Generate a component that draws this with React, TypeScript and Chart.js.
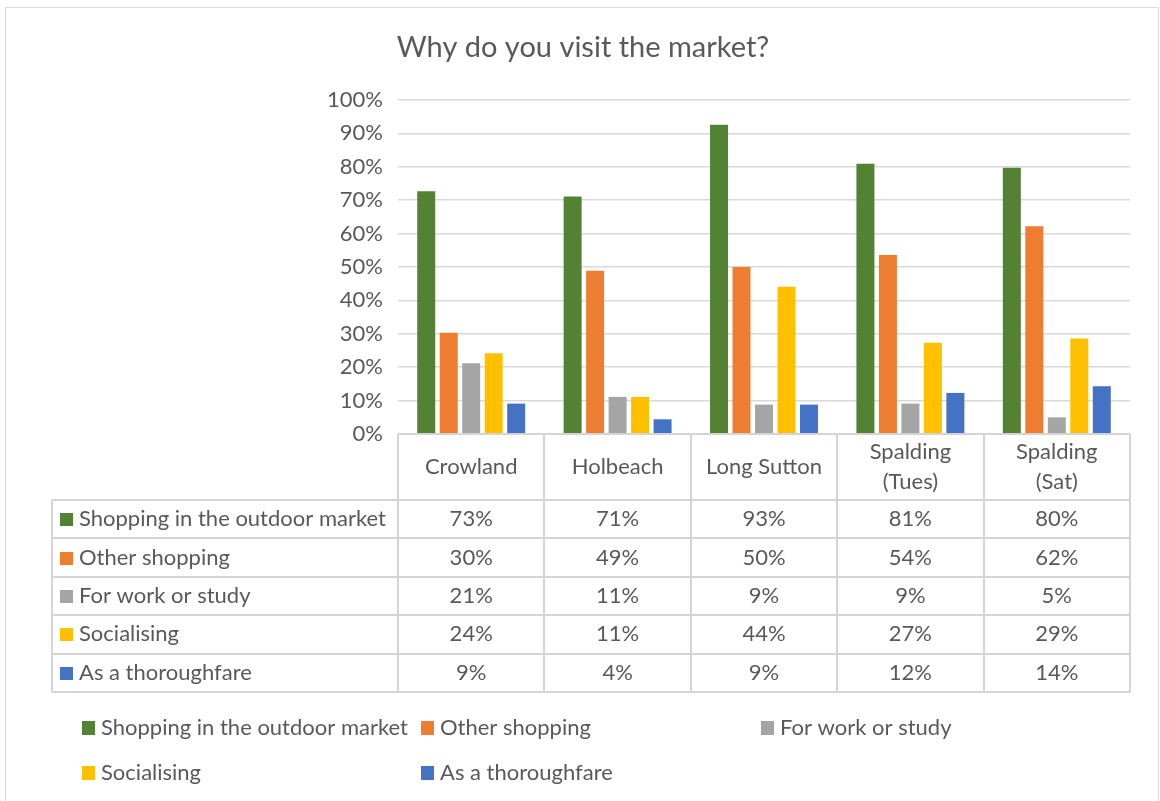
import React, { useEffect, useRef } from "react";
import { Chart, registerables } from "chart.js";

Chart.register(...registerables);

const title = "Why do you visit the market?";
const categories: string[][] = [["Crowland"], ["Holbeach"], ["Long Sutton"], ["Spalding", "(Tues)"], ["Spalding", "(Sat)"]];
const seriesNames = ["Shopping in the outdoor market", "Other shopping", "For work or study", "Socialising", "As a thoroughfare"];
const seriesColors = ["#548235", "#ED7D31", "#A5A5A5", "#FFC000", "#4472C4"];
const outdoorMarket = [72.7, 71.1, 92.6, 80.9, 79.7];
const otherShopping = [30.3, 48.9, 50.0, 53.6, 62.2];
const workOrStudy = [21.2, 11.1, 8.8, 9.1, 5.0];
const socialising = [24.2, 11.1, 44.1, 27.3, 28.6];
const thoroughfare = [9.1, 4.4, 8.8, 12.3, 14.3];
const seriesValues = [outdoorMarket, otherShopping, workOrStudy, socialising, thoroughfare];

const FONT = "Lato, 'Noto Sans', sans-serif";
const TEXT = "#595959";
const LINE = "#d9d9d9";
const FS = 22;

const decorPlugin = {
  id: "decor",
  afterDraw(chart: any) {
    const ctx = chart.ctx as CanvasRenderingContext2D;
    const area = chart.chartArea;
    const n = categories.length;
    const colW = (area.right - area.left) / n;
    const headerBottom = 500;
    const rowH = 38.4;
    const tableLeft = 52;
    const tableBottom = headerBottom + rowH * seriesNames.length;
    ctx.save();
    // outer border
    ctx.strokeStyle = LINE;
    ctx.lineWidth = 1;
    ctx.strokeRect(5.5, 7.5, 1153, 830);
    // title
    ctx.fillStyle = TEXT;
    ctx.font = `29px ${FONT}`;
    ctx.textAlign = "center";
    ctx.textBaseline = "middle";
    ctx.fillText(title, 583, 48);

    // table lines
    ctx.strokeStyle = "#d4d4d4";
    ctx.lineWidth = 2;
    ctx.beginPath();
    for (let i = 0; i <= n; i++) {
      const x = Math.round(area.left + i * colW);
      ctx.moveTo(x, area.bottom);
      ctx.lineTo(x, tableBottom);
    }
    ctx.moveTo(tableLeft, headerBottom);
    ctx.lineTo(tableLeft, tableBottom);
    ctx.moveTo(area.left, area.bottom);
    ctx.lineTo(area.right, area.bottom);
    for (let r = 0; r <= seriesNames.length; r++) {
      const y = Math.round(headerBottom + r * rowH);
      ctx.moveTo(tableLeft, y);
      ctx.lineTo(area.right, y);
    }
    ctx.stroke();

    // header
    ctx.fillStyle = TEXT;
    ctx.font = `${FS}px ${FONT}`;
    ctx.textAlign = "center";
    ctx.textBaseline = "middle";
    const headerMid = (area.bottom + headerBottom) / 2;
    categories.forEach((lines, i) => {
      const cx = area.left + (i + 0.5) * colW;
      const lh = 30;
      lines.forEach((t, j) => {
        const y = headerMid + (j - (lines.length - 1) / 2) * lh;
        ctx.fillText(t, cx, y);
      });
    });

    // rows
    seriesNames.forEach((name, r) => {
      const cy = headerBottom + (r + 0.5) * rowH;
      ctx.fillStyle = seriesColors[r];
      ctx.fillRect(60, Math.round(cy - 6), 13, 13);
      ctx.fillStyle = TEXT;
      ctx.textAlign = "left";
      ctx.fillText(name, 79, cy);
      ctx.textAlign = "center";
      seriesValues[r].forEach((v, i) => {
        ctx.fillText(Math.round(v) + "%", area.left + (i + 0.5) * colW, cy);
      });
    });

    // legend
    const legendCols = [82, 421, 761];
    const legendRows = [728, 773];
    seriesNames.forEach((name, k) => {
      const col = k % 3;
      const row = Math.floor(k / 3);
      const x = legendCols[col];
      const y = legendRows[row];
      ctx.fillStyle = seriesColors[k];
      ctx.fillRect(x, y - 7, 13, 14);
      ctx.fillStyle = TEXT;
      ctx.textAlign = "left";
      ctx.fillText(name, x + 19, y);
    });
    ctx.restore();
  },
};

export default function App() {
  const ref = useRef<HTMLCanvasElement | null>(null);
  useEffect(() => {
    if (!ref.current) return;
    const chart = new Chart(ref.current, {
      type: "bar",
      data: {
        labels: categories.map((c) => c.join(" ")),
        datasets: seriesNames.map((name, k) => ({
          label: name,
          data: seriesValues[k],
          backgroundColor: seriesColors[k],
          borderWidth: 0,
          barPercentage: 0.8,
          categoryPercentage: 0.768,
        })),
      },
      options: {
        animation: false,
        responsive: false,
        layout: { padding: { left: 0, right: 30, top: 100, bottom: 367 } },
        plugins: { legend: { display: false }, title: { display: false }, tooltip: { enabled: false } },
        scales: {
          x: { display: false },
          y: {
            min: 0,
            max: 100,
            afterFit: (scale: any) => {
              scale.width = 398;
            },
            border: { display: false },
            grid: { color: LINE, lineWidth: 1.5, drawTicks: false },
            ticks: {
              stepSize: 10,
              padding: 15,
              color: TEXT,
              font: { family: FONT, size: FS },
              callback: (v: any) => v + "%",
            },
          },
        },
      },
      plugins: [decorPlugin],
    });
    return () => chart.destroy();
  }, []);
  return (
    <div style={{ position: "fixed", left: 0, top: 0, width: 1160, height: 801, background: "#fff" }}>
      <canvas ref={ref} width={1160} height={801} style={{ width: 1160, height: 801 }} />
    </div>
  );
}
